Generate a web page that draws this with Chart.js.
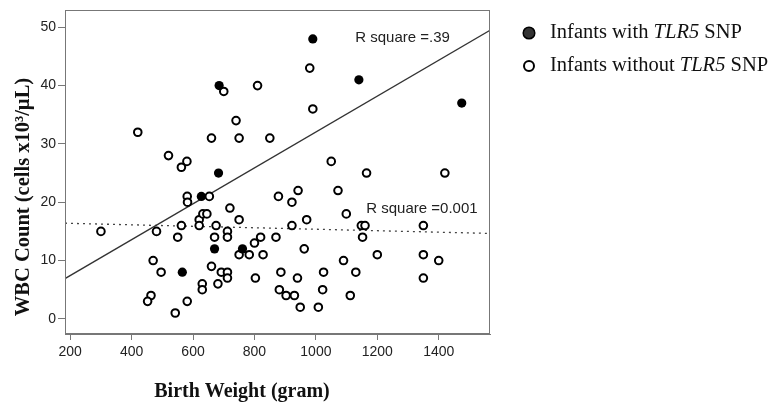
<!DOCTYPE html>
<html><head><meta charset="utf-8">
<script src="https://cdn.jsdelivr.net/npm/chart.js@4/dist/chart.umd.min.js"></script>
<style>html,body{margin:0;padding:0;background:#fff;}#wrap{position:relative;width:771px;height:407px;}</style>
</head><body><div id="wrap"><canvas id="c" width="771" height="407"></canvas></div>
<script>
// Infants with TLR5 SNP
const snpX = [990, 685, 1140, 1475, 683, 627, 670, 761, 565];
const snpY = [48, 40, 41, 37, 25, 21, 12, 12, 8];
// Infants without TLR5 SNP
const noSnpX = [420, 520, 580, 562, 980, 700, 810, 990, 740, 660, 750, 850, 1050, 1165, 1420,
  581, 582, 653, 300, 481, 562, 550, 620, 620, 632, 645, 720, 750, 675, 712, 712, 670,
  470, 496, 463, 452, 581, 542, 630, 630, 750, 783, 828, 800, 820, 870,
  660, 692, 712, 712, 681, 803, 878, 922, 942, 1072, 970, 922, 962,
  886, 940, 1025, 1022, 881, 903, 930, 949, 1008, 1099, 1090,
  1148, 1160, 1152, 1200, 1130, 1112, 1350, 1350, 1400, 1350];
const noSnpY = [32, 28, 27, 26, 43, 39, 40, 36, 34, 31, 31, 31, 27, 25, 25,
  21, 20, 21, 15, 15, 16, 14, 17, 16, 18, 18, 19, 17, 16, 15, 14, 14,
  10, 8, 4, 3, 3, 1, 6, 5, 11, 11, 11, 13, 14, 14,
  9, 8, 8, 7, 6, 7, 21, 20, 22, 22, 17, 16, 12,
  8, 7, 8, 5, 5, 4, 4, 2, 2, 18, 10,
  16, 16, 14, 11, 8, 4, 16, 11, 10, 7];
// fit lines (end points)
const fitSnpX = [183, 1567];
const fitSnpY = [6.9, 49.5];
const fitNoSnpX = [183, 1567];
const fitNoSnpY = [16.4, 14.65];
// axes
const xTicks = [200, 400, 600, 800, 1000, 1200, 1400];
const yTicks = [0, 10, 20, 30, 40, 50];
const xTitle = 'Birth Weight (gram)';
const yTitle = 'WBC Count (cells x10\u00B3/\u00B5L)';
const rLabelTexts = ['R square =.39', 'R square =0.001'];
const rLabelX = [1128, 1164];
const rLabelY = [48.2, 18.8];
const legendParts = [
  [['Infants with ', false], ['TLR5', true], [' SNP', false]],
  [['Infants without ', false], ['TLR5', true], [' SNP', false]]
];

const pts = (xs, ys) => xs.map((x, i) => ({x: x, y: ys[i]}));

const extras = {
  id: 'extras',
  afterDraw(chart) {
    const ctx = chart.ctx, ca = chart.chartArea;
    const sx = chart.scales.x, sy = chart.scales.y;
    ctx.save();
    // box
    ctx.strokeStyle = '#777'; ctx.lineWidth = 1;
    ctx.strokeRect(Math.round(ca.left) + 0.5, Math.round(ca.top) + 0.5,
      Math.round(ca.right - ca.left) - 1, Math.round(ca.bottom - ca.top) - 1);
    // R square labels
    ctx.fillStyle = '#222';
    ctx.font = '15px "Liberation Sans", Arial, sans-serif';
    ctx.textAlign = 'left'; ctx.textBaseline = 'middle';
    rLabelTexts.forEach((t, i) => {
      ctx.fillText(t, sx.getPixelForValue(rLabelX[i]), sy.getPixelForValue(rLabelY[i]));
    });
    // axis titles
    ctx.fillStyle = '#111';
    ctx.font = 'bold 20px "Liberation Serif", "Times New Roman", serif';
    ctx.textAlign = 'center';
    ctx.fillText(xTitle, 242, 392);
    ctx.save();
    ctx.translate(24, 197);
    ctx.rotate(-Math.PI / 2);
    ctx.font = 'bold 20.5px "Liberation Serif", "Times New Roman", serif';
    ctx.fillText(yTitle, 0, 0);
    ctx.restore();
    // legend
    const rows = [33, 66];
    rows.forEach((ry, i) => {
      ctx.beginPath();
      if (i === 0) {
        ctx.arc(529, ry, 5.8, 0, Math.PI * 2);
        ctx.fillStyle = '#333'; ctx.fill();
        ctx.lineWidth = 1.5; ctx.strokeStyle = '#000'; ctx.stroke();
      } else {
        ctx.arc(529, ry, 5, 0, Math.PI * 2);
        ctx.fillStyle = '#fff'; ctx.fill();
        ctx.lineWidth = 2; ctx.strokeStyle = '#000'; ctx.stroke();
      }
      let x = 550;
      ctx.textAlign = 'left'; ctx.textBaseline = 'middle'; ctx.fillStyle = '#111';
      legendParts[i].forEach(([t, it]) => {
        ctx.font = (it ? 'italic ' : '') + '20.5px "Liberation Serif", "Times New Roman", serif';
        ctx.fillText(t, x, ry);
        x += ctx.measureText(t).width;
      });
    });
    ctx.restore();
  }
};

new Chart(document.getElementById('c'), {
  type: 'scatter',
  data: {
    datasets: [
      { label: 'Infants with TLR5 SNP', data: pts(snpX, snpY), order: 0,
        pointRadius: 4.6, pointBackgroundColor: '#000', pointBorderWidth: 0, pointBorderColor: '#000' },
      { label: 'Infants without TLR5 SNP', data: pts(noSnpX, noSnpY), order: 1,
        pointRadius: 3.8, pointBackgroundColor: '#fff', pointBorderWidth: 2, pointBorderColor: '#000' },
      { label: 'fit SNP', data: pts(fitSnpX, fitSnpY), order: 2, showLine: true,
        pointRadius: 0, borderColor: '#333', borderWidth: 1.3, fill: false },
      { label: 'fit no SNP', data: pts(fitNoSnpX, fitNoSnpY), order: 3, showLine: true,
        pointRadius: 0, borderColor: '#444', borderWidth: 1.3, borderDash: [2, 4], fill: false }
    ]
  },
  options: {
    responsive: false, animation: false, devicePixelRatio: 1,
    layout: { padding: { top: 8, right: 281, left: 0, bottom: 0 } },
    plugins: { legend: { display: false }, tooltip: { enabled: false } },
    scales: {
      x: {
        type: 'linear', min: 183, max: 1567,
        afterBuildTicks: s => { s.ticks = xTicks.map(v => ({ value: v })); },
        afterFit: s => { s.height = 73; },
        ticks: { color: '#222', padding: 4, maxRotation: 0, autoSkip: false,
          callback: v => String(v),
          font: { family: '"Liberation Sans", Arial, sans-serif', size: 14 } },
        grid: { drawOnChartArea: false, tickLength: 6, color: '#777', tickColor: '#777' },
        border: { color: '#777' }
      },
      y: {
        type: 'linear', min: -2.6, max: 52.9,
        afterBuildTicks: s => { s.ticks = yTicks.map(v => ({ value: v })); },
        afterFit: s => { s.width = 65; },
        ticks: { color: '#222', padding: 2, autoSkip: false,
          callback: v => String(v),
          font: { family: '"Liberation Sans", Arial, sans-serif', size: 14 } },
        grid: { drawOnChartArea: false, tickLength: 7, color: '#777', tickColor: '#777' },
        border: { color: '#777' }
      }
    }
  },
  plugins: [extras]
});
</script></body></html>
